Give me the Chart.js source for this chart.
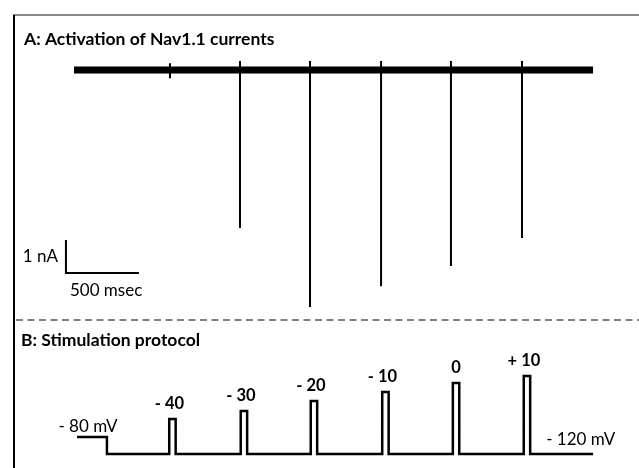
<!DOCTYPE html>
<html>
<head>
<meta charset="utf-8">
<script src="https://cdn.jsdelivr.net/npm/chart.js@4"></script>
<style>
  html, body { margin: 0; padding: 0; background: #fff; }
  canvas { display: block; }
</style>
</head>
<body>
<canvas id="nav-chart" width="639" height="468"></canvas>
<script>
// Panel A: Nav1.1 current trace (time in msec, current in nA)
const traceStart = 7
const traceEnd = 3565
const spikeTimes = [1145, 1625, 2112, 2591, 3078]
const spikePeaks = [-4.79, -7.18, -6.55, -5.94, -5.09]
const spikeTip = 0.27
const blipTime = 665
const blipRange = [0.2, -0.25]

// scale bar
const barTime = -48
const barTop = -5.15
const barMsec = 500
const barNa = 1

// Panel B: stimulation protocol (drawn schematically, heights are not to scale)
const holdStart = 28
const holdEnd = 233
const holdLevel = -80
const restLevel = -120
const pulseStart = [660, 1150, 1630, 2120, 2604, 3090]
const pulseEnd = [704, 1194, 1674, 2164, 2648, 3134]
const pulseLevel = [-37.6, -18.8, 4.7, 25.9, 47.1, 63.5]
const pulseLabels = ['- 40', '- 30', '- 20', '- 10', '0', '+ 10']
const protocolEnd = 3565

const FONT = 'Lato, "Open Sans", sans-serif'

// build datasets
const traceData = [{ x: traceStart, y: 0 }, { x: traceEnd, y: 0 }]

const spikeData = []
spikeData.push({ x: blipTime, y: blipRange[0] }, { x: blipTime, y: blipRange[1] }, { x: blipTime, y: null })
spikeTimes.forEach((t, i) => {
  spikeData.push({ x: t, y: spikeTip }, { x: t, y: spikePeaks[i] }, { x: t, y: null })
})

const barData = [
  { x: barTime, y: barTop },
  { x: barTime, y: barTop - barNa },
  { x: barTime + barMsec, y: barTop - barNa }
]

const protocolData = [
  { x: holdStart, y: holdLevel },
  { x: holdEnd, y: holdLevel },
  { x: holdEnd, y: restLevel }
]
pulseStart.forEach((t, i) => {
  protocolData.push(
    { x: t, y: restLevel },
    { x: t, y: pulseLevel[i] },
    { x: pulseEnd[i], y: pulseLevel[i] },
    { x: pulseEnd[i], y: restLevel }
  )
})
protocolData.push({ x: protocolEnd, y: restLevel })

// frame, separator and text
const decorations = {
  id: 'decorations',
  afterDraw(chart) {
    const ctx = chart.ctx
    const x = chart.scales.x
    const yA = chart.scales.yA
    const yB = chart.scales.yB
    ctx.save()

    ctx.strokeStyle = '#8a8a8a'
    ctx.lineWidth = 2
    ctx.beginPath()
    ctx.moveTo(13, 15)
    ctx.lineTo(639, 15)
    ctx.stroke()

    ctx.strokeStyle = '#000'
    ctx.beginPath()
    ctx.moveTo(14, 15)
    ctx.lineTo(14, 468)
    ctx.stroke()

    ctx.strokeStyle = '#555'
    ctx.lineWidth = 1.5
    ctx.setLineDash([7, 4.5])
    ctx.beginPath()
    ctx.moveTo(16, 320)
    ctx.lineTo(639, 320)
    ctx.stroke()
    ctx.setLineDash([])

    ctx.fillStyle = '#000'
    ctx.textBaseline = 'alphabetic'
    ctx.textAlign = 'left'
    ctx.font = 'bold 17.5px ' + FONT
    ctx.fillText('A: Activation of Nav1.1 currents', 24, 45)
    ctx.fillText('B: Stimulation protocol', 21, 346)

    // scale bar labels
    ctx.font = '17px ' + FONT
    ctx.textAlign = 'right'
    ctx.fillText(barNa + ' nA', x.getPixelForValue(barTime) - 8, yA.getPixelForValue(barTop - barNa / 2) + 6)
    ctx.textAlign = 'left'
    ctx.fillText(barMsec + ' msec', x.getPixelForValue(barTime) + 4, yA.getPixelForValue(barTop - barNa) + 23)

    // protocol labels
    ctx.textAlign = 'center'
    ctx.fillText('- 80 mV', (x.getPixelForValue(holdStart) + x.getPixelForValue(holdEnd)) / 2 - 4, yB.getPixelForValue(holdLevel) - 5)
    ctx.textAlign = 'left'
    ctx.fillText('- 120 mV', x.getPixelForValue(pulseEnd[pulseEnd.length - 1]) + 16, yB.getPixelForValue(restLevel) - 9)

    ctx.font = 'bold 16.5px ' + FONT
    ctx.textAlign = 'center'
    pulseLabels.forEach((label, i) => {
      const mid = (x.getPixelForValue(pulseStart[i]) + x.getPixelForValue(pulseEnd[i])) / 2
      const shift = label === '0' ? 0 : -3
      ctx.fillText(label, mid + shift, yB.getPixelForValue(pulseLevel[i]) - 10)
    })

    ctx.restore()
  }
}

const ctxNav = document.getElementById('nav-chart').getContext('2d')
new Chart(ctxNav, {
  type: 'line',
  data: {
    datasets: [
      { data: traceData, yAxisID: 'yA', borderColor: '#000', borderWidth: 7, borderCapStyle: 'butt', pointRadius: 0 },
      { data: spikeData, yAxisID: 'yA', borderColor: '#000', borderWidth: 2, spanGaps: false, pointRadius: 0 },
      { data: barData, yAxisID: 'yA', borderColor: '#000', borderWidth: 2, pointRadius: 0 },
      { data: protocolData, yAxisID: 'yB', borderColor: '#000', borderWidth: 2.5, borderJoinStyle: 'miter', pointRadius: 0 }
    ]
  },
  options: {
    responsive: false,
    animation: false,
    layout: { padding: 0 },
    plugins: { legend: { display: false }, tooltip: { enabled: false } },
    scales: {
      x: { type: 'linear', min: -500, max: 3880, display: false },
      yA: { type: 'linear', min: -12.06, max: 2.12, display: false },
      yB: { type: 'linear', min: -152.9, max: 948, display: false }
    }
  },
  plugins: [decorations]
})
</script>
</body>
</html>
